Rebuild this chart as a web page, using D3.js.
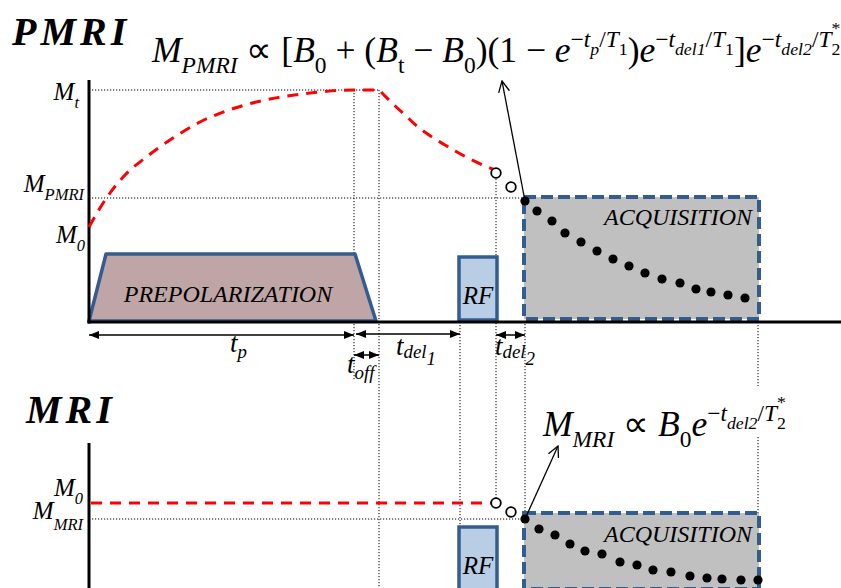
<!DOCTYPE html>
<html><head><meta charset="utf-8">
<script src="https://cdn.jsdelivr.net/npm/d3@7"></script>
<style>body{margin:0;background:#fff} svg{display:block} text{white-space:pre}</style>
</head><body><svg id="c" width="841" height="588"></svg>
<script>
// ---------- DATA ----------
const tpEnd = 265, toffEnd = 290, rfStart = 371, rfEnd = 407, acqStart = 436, acqEnd = 669;
const pmriLevels = [232, 124, 95];          // M_t, M_PMRI, M_0
const buildT = [0, 11, 21, 36, 56, 81, 111, 146, 181, 221, 265, 290];
const buildM = [95, 114, 129, 147, 164, 182, 200, 214, 223, 229, 232, 232];
const decayT = [290, 294, 304, 316, 329, 343, 356, 368, 381, 396, 406];
const decayM = [232, 228, 218, 207, 195, 185, 177, 170, 163, 156, 152];
const pmriOpenM = [149, 135];
const openT = [407, 422];
const pmriAcqT = [436, 448, 463, 476, 492, 508, 524, 540, 556, 573, 591, 607, 622, 639, 656];
const pmriAcqM = [121, 111, 101, 89, 80, 71, 63, 56, 49, 43, 39, 33, 30, 27, 24];
const mriAcqT = [436, 450, 466, 481, 496, 513, 531, 548, 564, 582, 601, 618, 633, 652, 669];
const mriAcqM = [73, 63, 57, 48, 41, 38, 30, 27, 22, 20, 16, 14, 13, 12, 12];
const mriLevels = [89, 73];                 // M_0, M_MRI
const mriOpenM = [89, 80];
const rfTop = 65, prepTop = 68, acqTopP = 125, acqTopM = 79;

// ---------- SCALES ----------
const W = 841, H = 588;
const x = d3.scaleLinear().domain([0, 752]).range([89, 841]);
const yP = d3.scaleLinear().domain([0, 242]).range([322, 80]);
const yM = d3.scaleLinear().domain([0, 150]).range([592, 442]);

const svg = d3.select('#c');
const SERIF = '"Liberation Serif","Times New Roman",serif';
const BLUE = '#335d90';

const defs = svg.append('defs');
defs.append('marker').attr('id', 'ah').attr('viewBox', '0 0 10 8').attr('refX', 10).attr('refY', 4)
  .attr('markerWidth', 10).attr('markerHeight', 8).attr('markerUnits', 'userSpaceOnUse')
  .attr('orient', 'auto-start-reverse')
  .append('path').attr('d', 'M0,0L10,4L0,8Z').attr('fill', '#000');
defs.append('marker').attr('id', 'av').attr('viewBox', '0 0 12 12').attr('refX', 11).attr('refY', 6)
  .attr('markerWidth', 12).attr('markerHeight', 12).attr('markerUnits', 'userSpaceOnUse')
  .attr('orient', 'auto')
  .append('path').attr('d', 'M0,0.5L11,6L0,11.5').attr('fill', 'none').attr('stroke', '#000').attr('stroke-width', 1.3);

// rich text helper
const LV = [{s: 1, o: 0}, {s: .66, o: .3}, {s: .66, o: -.42}, {s: .5, o: -.2}, {s: .5, o: -.78}];
function rich(px, py, parts, S, anchor, opts) {
  opts = opts || {};
  const t = svg.append('text').attr('x', px).attr('y', py).attr('font-family', SERIF)
    .attr('text-anchor', anchor || 'start').attr('fill', '#000');
  let cur = 0, prev = null;
  parts.forEach(p => {
    const [txt, it, lv] = p;
    const lvl = (opts.levels || LV)[lv];
    const o = lvl.o * S;
    const ts = t.append('tspan').attr('dy', (o - cur).toFixed(2)).attr('font-size', lvl.s * S)
      .attr('font-style', it ? 'italic' : 'normal').text(txt);
    if (p[3] === 'back' && prev) ts.attr('dx', -prev.node().getComputedTextLength());
    cur = o; prev = ts;
  });
  return t;
}

// ---------- TITLES ----------
svg.append('text').attr('x', 12).attr('y', 45).attr('font-family', SERIF).attr('font-weight', 'bold')
  .attr('font-style', 'italic').attr('font-size', 40).attr('letter-spacing', 4).text('PMRI');
svg.append('text').attr('x', 26).attr('y', 423).attr('font-family', SERIF).attr('font-weight', 'bold')
  .attr('font-style', 'italic').attr('font-size', 40).attr('letter-spacing', 4).text('MRI');

// ---------- DOTTED GUIDES ----------
const dotted = g => g.attr('stroke', '#000').attr('stroke-width', 1).attr('stroke-dasharray', '1.2,1.8').attr('fill', 'none');
const hGuides = [
  [yP(pmriLevels[0]), x(0), x(toffEnd)],
  [yP(pmriLevels[1]), x(0), x(acqStart)],
  [yM(mriLevels[1]), x(0), x(acqStart)]
];
hGuides.forEach(([yy, x1, x2]) => svg.append('line').attr('x1', x1).attr('x2', x2).attr('y1', yy).attr('y2', yy).call(dotted));
const vGuides = [
  [x(tpEnd), yP(pmriLevels[0]), yP(-58)],
  [x(toffEnd), yP(pmriLevels[0]), H],
  [x(rfStart), yP(0), yM(rfTop)],
  [x(rfEnd), yP(pmriOpenM[0]), yM(mriOpenM[0])],
  [x(acqStart), yP(pmriAcqM[0]), yM(mriAcqM[0])],
  [x(acqEnd), yP(0), yP(-64)],
  [x(acqEnd), yM(155), yM(acqTopM)]
];
vGuides.forEach(([xx, y1, y2]) => svg.append('line').attr('x1', xx).attr('x2', xx).attr('y1', y1).attr('y2', y2).call(dotted));

// ---------- PMRI SHAPES ----------
svg.append('path').attr('d', d3.line()([[x(0), yP(1)], [x(17), yP(prepTop)], [x(tpEnd + 1), yP(prepTop)], [x(toffEnd - 3), yP(1)]]) + 'Z')
  .attr('fill', '#bfa5a5').attr('stroke', BLUE).attr('stroke-width', 3.5).attr('stroke-linejoin', 'round');
svg.append('text').attr('x', (x(17) + x(tpEnd)) / 2 - 2).attr('y', 302).attr('text-anchor', 'middle')
  .attr('font-family', SERIF).attr('font-style', 'italic').attr('font-size', 24).text('PREPOLARIZATION');

function rf(yS, top, bottom) {
  svg.append('rect').attr('x', x(rfStart) - 1).attr('y', yS(top)).attr('width', x(rfEnd) - x(rfStart) + 2)
    .attr('height', yS(bottom) - yS(top)).attr('fill', '#b9cde5').attr('stroke', BLUE).attr('stroke-width', 3.5);
  svg.append('text').attr('x', (x(rfStart) + x(rfEnd)) / 2).attr('y', yS(top) + 47).attr('text-anchor', 'middle')
    .attr('font-family', SERIF).attr('font-style', 'italic').attr('font-size', 25).text('RF');
}
rf(yP, rfTop, 2);
rf(yM, rfTop, 2);

function acq(yS, top, ty) {
  svg.append('rect').attr('x', x(acqStart) - 1).attr('y', yS(top)).attr('width', x(acqEnd) - x(acqStart) + 2)
    .attr('height', yS(3) - yS(top)).attr('fill', '#c0c0c0').attr('stroke', BLUE).attr('stroke-width', 4)
    .attr('stroke-dasharray', '12,5');
  svg.append('text').attr('x', x(acqEnd) - 6).attr('y', ty).attr('text-anchor', 'end')
    .attr('font-family', SERIF).attr('font-style', 'italic').attr('font-size', 24).text('ACQUISITION');
}
acq(yP, acqTopP, 225);
acq(yM, acqTopM, 542);

// ---------- AXES ----------
svg.append('line').attr('x1', x(0)).attr('x2', x(0)).attr('y1', yP(242)).attr('y2', yP(0) + 1.5).attr('stroke', '#000').attr('stroke-width', 3);
svg.append('line').attr('x1', x(0) - 1.5).attr('x2', W).attr('y1', yP(0)).attr('y2', yP(0)).attr('stroke', '#000').attr('stroke-width', 3);
svg.append('line').attr('x1', x(0)).attr('x2', x(0)).attr('y1', yM(149)).attr('y2', H).attr('stroke', '#000').attr('stroke-width', 3);

// ---------- RED CURVES ----------
const pmriCurve = buildT.map((t, i) => [t, buildM[i]]).concat(decayT.slice(1).map((t, i) => [t, decayM[i + 1]]));
svg.append('path').attr('d', d3.line().x(d => x(d[0])).y(d => yP(d[1])).curve(d3.curveMonotoneX)(pmriCurve))
  .attr('fill', 'none').attr('stroke', '#ff0000').attr('stroke-width', 3).attr('stroke-dasharray', '11,8');
svg.append('line').attr('x1', x(0) + 2).attr('x2', x(rfEnd) - 5).attr('y1', yM(mriLevels[0])).attr('y2', yM(mriLevels[0]))
  .attr('stroke', '#ff0000').attr('stroke-width', 3).attr('stroke-dasharray', '11,8');

// open circles
openT.forEach((t, i) => {
  svg.append('circle').attr('cx', x(t)).attr('cy', yP(pmriOpenM[i])).attr('r', 4.8).attr('fill', '#fff').attr('stroke', '#000').attr('stroke-width', 1.8);
  svg.append('circle').attr('cx', x(t)).attr('cy', yM(mriOpenM[i])).attr('r', 4.8).attr('fill', '#fff').attr('stroke', '#000').attr('stroke-width', 1.8);
});
// acquisition dots
svg.selectAll('.dp').data(pmriAcqT.map((t, i) => [t, pmriAcqM[i]])).join('circle')
  .attr('cx', d => x(d[0])).attr('cy', d => yP(d[1])).attr('r', 4.6).attr('fill', '#000');
svg.selectAll('.dm').data(mriAcqT.map((t, i) => [t, mriAcqM[i]])).join('circle')
  .attr('cx', d => x(d[0])).attr('cy', d => yM(d[1])).attr('r', 4.6).attr('fill', '#000');

// pointer arrows
svg.append('line').attr('x1', x(acqStart)).attr('y1', yP(pmriAcqM[0])).attr('x2', 502).attr('y2', 81)
  .attr('stroke', '#000').attr('stroke-width', 1.3).attr('marker-end', 'url(#av)');
svg.append('line').attr('x1', x(acqStart)).attr('y1', yM(mriAcqM[0])).attr('x2', 558).attr('y2', 446)
  .attr('stroke', '#000').attr('stroke-width', 1.3).attr('marker-end', 'url(#av)');

// ---------- DIMENSION ARROWS ----------
const dims = [[0, tpEnd, -13], [tpEnd + 2, rfStart, -12], [tpEnd, toffEnd, -33], [rfEnd, acqStart, -13]];
dims.forEach(([a, b, v]) => svg.append('line').attr('x1', x(a)).attr('x2', x(b)).attr('y1', yP(v)).attr('y2', yP(v))
  .attr('stroke', '#000').attr('stroke-width', 1.5).attr('marker-start', 'url(#ah)').attr('marker-end', 'url(#ah)'));

const DL = [{s: 1, o: 0}, {s: .7, o: .22}, {s: .7, o: .48}];
rich(230, 352, [['t', 1, 0], ['p', 1, 1]], 27, 'start', {levels: DL});
rich(347, 373, [['t', 1, 0], ['off', 1, 1]], 27, 'start', {levels: DL});
rich(396, 355, [['t', 1, 0], ['del', 1, 1], ['1', 1, 2]], 27, 'start', {levels: [{s: 1, o: 0}, {s: .7, o: .12}, {s: .7, o: .38}]});
rich(495, 355, [['t', 1, 0], ['del', 1, 1], ['2', 1, 2]], 27, 'start', {levels: [{s: 1, o: 0}, {s: .7, o: .12}, {s: .7, o: .38}]});

// ---------- LEVEL LABELS ----------
const YL = [{s: 1, o: 0}, {s: .66, o: .3}];
rich(79, 100, [['M', 1, 0], ['t', 1, 1]], 25, 'end', {levels: YL});
rich(84, 192, [['M', 1, 0], ['PMRI', 1, 1]], 25, 'end', {levels: YL});
rich(85, 243, [['M', 1, 0], ['0', 1, 1]], 25, 'end', {levels: YL});
rich(83, 496, [['M', 1, 0], ['0', 1, 1]], 25, 'end', {levels: YL});
rich(83, 519, [['M', 1, 0], ['MRI', 1, 1]], 25, 'end', {levels: [{s: 1, o: 0}, {s: .66, o: .42}]});

// ---------- FORMULAS ----------
const fPMRI = [['M', 1, 0], ['PMRI', 1, 1], [' ∝ [', 0, 0], ['B', 1, 0], ['0', 0, 1], [' + (', 0, 0], ['B', 1, 0], ['t', 0, 1],
  [' − ', 0, 0], ['B', 1, 0], ['0', 0, 1], [')(1 − ', 0, 0], ['e', 1, 0], ['−', 0, 2], ['t', 1, 2], ['p', 1, 3], ['/', 0, 2],
  ['T', 1, 2], ['1', 0, 3], [')', 0, 0], ['e', 1, 0], ['−', 0, 2], ['t', 1, 2], ['del1', 1, 3], ['/', 0, 2], ['T', 1, 2],
  ['1', 0, 3], [']', 0, 0], ['e', 1, 0], ['−', 0, 2], ['t', 1, 2], ['del2', 1, 3], ['/', 0, 2], ['T', 1, 2], ['2', 0, 3], ['*', 0, 4, 'back']];
const fMRI = [['M', 1, 0], ['MRI', 1, 1], [' ∝ ', 0, 0], ['B', 1, 0], ['0', 0, 1], ['e', 1, 0], ['−', 0, 2], ['t', 1, 2],
  ['del2', 1, 3], ['/', 0, 2], ['T', 1, 2], ['2', 0, 3], ['*', 0, 4, 'back']];
let S = 26;
const probe = rich(152, 62, fPMRI, S);
const wNow = probe.node().getBBox().width;
probe.remove();
S = S * 690 / wNow;
rich(152, 62, fPMRI, S);
rich(543, 436, fMRI, S);
</script></body></html>
